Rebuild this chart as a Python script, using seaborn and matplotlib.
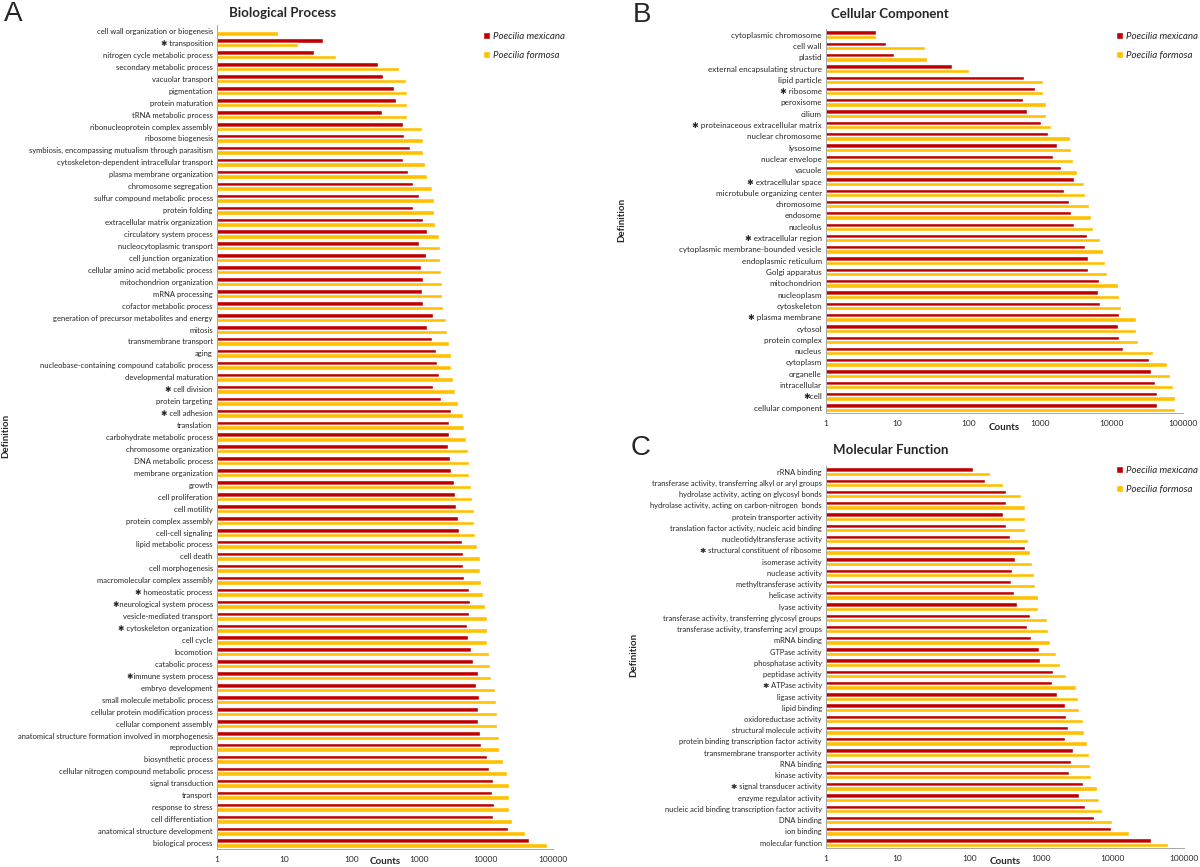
import pandas as pd
import seaborn as sns
import matplotlib.pyplot as plt
from matplotlib.ticker import NullLocator

species = ["Poecilia mexicana", "Poecilia formosa"]
colors = ["#C00000", "#FFC000"]
tick_values = [1, 10, 100, 1000, 10000, 100000]
tick_labels = ["1", "10", "100", "1000", "10000", "100000"]

# A - Biological Process
bp_terms = [
    "cell wall organization or biogenesis", "\u2731 transposition", "nitrogen cycle metabolic process",
    "secondary metabolic process", "vacuolar transport", "pigmentation", "protein maturation",
    "tRNA metabolic process", "ribonucleoprotein complex assembly", "ribosome biogenesis",
    "symbiosis, encompassing mutualism through parasitism", "cytoskeleton-dependent intracellular transport",
    "plasma membrane organization", "chromosome segregation", "sulfur compound metabolic process",
    "protein folding", "extracellular matrix organization", "circulatory system process",
    "nucleocytoplasmic transport", "cell junction organization", "cellular amino acid metabolic process",
    "mitochondrion organization", "mRNA processing", "cofactor metabolic process",
    "generation of precursor metabolites and energy", "mitosis", "transmembrane transport", "aging",
    "nucleobase-containing compound catabolic process", "developmental maturation", "\u2731 cell division",
    "protein targeting", "\u2731 cell adhesion", "translation", "carbohydrate metabolic process",
    "chromosome organization", "DNA metabolic process", "membrane organization", "growth",
    "cell proliferation", "cell motility", "protein complex assembly", "cell-cell signaling",
    "lipid metabolic process", "cell death", "cell morphogenesis", "macromolecular complex assembly",
    "\u2731 homeostatic process", "\u2731neurological system process", "vesicle-mediated transport",
    "\u2731 cytoskeleton organization", "cell cycle", "locomotion", "catabolic process",
    "\u2731immune system process", "embryo development", "small molecule metabolic process",
    "cellular protein modification process", "cellular component assembly",
    "anatomical structure formation involved in morphogenesis", "reproduction", "biosynthetic process",
    "cellular nitrogen compound metabolic process", "signal transduction", "transport",
    "response to stress", "cell differentiation", "anatomical structure development", "biological process",
]
bp_mexicana = [
    0, 38, 28, 248, 294, 430, 457, 287, 590, 605, 736, 576, 684, 822, 1012, 832, 1145, 1325, 1012,
    1294, 1104, 1145, 1130, 1158, 1633, 1342, 1592, 1800, 1890, 2036, 1633, 2188, 3048, 2798, 2798,
    2730, 2973, 3013, 3320, 3443, 3620, 3800, 3945, 4400, 4510, 4570, 4740, 5620, 5830, 5620, 5290,
    5490, 6050, 6440, 7730, 7180, 8020, 7550, 7730, 8320, 8630, 10370, 11040, 12780, 12470, 13100,
    12620, 21630, 44560,
]
bp_formosa = [
    8, 16, 59, 510, 659, 667, 676, 676, 1130, 1145, 1145, 1231, 1342, 1592, 1671, 1714, 1734, 1986,
    2110, 2110, 2188, 2217, 2244, 2300, 2600, 2631, 2798, 3013, 3048, 3200, 3443, 3800, 4570, 4800,
    5040, 5355, 5690, 5690, 5980, 6210, 6600, 6760, 6920, 7450, 8120, 8320, 8630, 9060, 9640, 10500,
    10500, 10500, 11040, 11460, 12020, 13580, 14090, 14620, 14620, 15530, 15530, 18220, 20360, 21900,
    22440, 22440, 24150, 38460, 80200,
]

# B - Cellular Component
cc_terms = [
    "cytoplasmic chromosome", "cell wall", "plastid", "external encapsulating structure", "lipid particle",
    "\u2731 ribosome", "peroxisome", "cilium", "\u2731 proteinaceous extracellular matrix",
    "nuclear chromosome", "lysosome", "nuclear envelope", "vacuole", "\u2731 extracellular space",
    "microtubule organizing center", "chromosome", "endosome", "nucleolus", "\u2731 extracellular region",
    "cytoplasmic membrane-bounded vesicle", "endoplasmic reticulum", "Golgi apparatus", "mitochondrion",
    "nucleoplasm", "cytoskeleton", "\u2731 plasma membrane", "cytosol", "protein complex", "nucleus",
    "cytoplasm", "organelle", "intracellular", "\u2731cell", "cellular component",
]
cc_mexicana = [
    5, 7, 9, 58, 590, 843, 575, 659, 1040, 1300, 1706, 1489, 1976, 2932, 2128, 2528, 2690, 3006, 4573,
    4246, 4745, 4745, 6700, 6540, 6950, 12740, 12130, 12590, 14420, 33340, 35460, 40120, 42680, 43740,
]
cc_formosa = [
    5, 24, 26, 101, 1080, 1107, 1206, 1221, 1433, 2656, 2723, 2862, 3279, 4095, 4198, 4864, 5108, 5570,
    6790, 7590, 8170, 8590, 12270, 12590, 13370, 21660, 21660, 23330, 37720, 59570, 64890, 71600,
    76230, 77100,
]

# C - Molecular Function
mf_terms = [
    "rRNA binding", "transferase activity, transferring alkyl or aryl groups",
    "hydrolase activity, acting on glycosyl bonds", "hydrolase activity, acting on carbon-nitrogen  bonds",
    "protein transporter activity", "translation factor activity, nucleic acid binding",
    "nucleotidyltransferase activity", "\u2731 structural constituent of ribosome", "isomerase activity",
    "nuclease activity", "methyltransferase activity", "helicase activity", "lyase activity",
    "transferase activity, transferring glycosyl groups", "transferase activity, transferring acyl groups",
    "mRNA binding", "GTPase activity", "phosphatase activity", "peptidase activity",
    "\u2731 ATPase activity", "ligase activity", "lipid binding", "oxidoreductase activity",
    "structural molecule activity", "protein binding transcription factor activity",
    "transmembrane transporter activity", "RNA binding", "kinase activity",
    "\u2731 signal transducer activity", "enzyme regulator activity",
    "nucleic acid binding transcription factor activity", "DNA binding", "ion binding",
    "molecular function",
]
mf_mexicana = [
    112, 164, 330, 330, 299, 330, 373, 604, 438, 402, 388, 427, 472, 718, 634, 726, 953, 975, 1465,
    1430, 1679, 2148, 2256, 2398, 2148, 2849, 2644, 2486, 3828, 3427, 4118, 5535, 9520, 34250,
]
mf_formosa = [
    197, 296, 527, 604, 611, 611, 666, 718, 763, 791, 832, 906, 918, 1203, 1279, 1343, 1656, 1849,
    2280, 3102, 3303, 3383, 3922, 4071, 4438, 4659, 4893, 5011, 6185, 6417, 7260, 9880, 16790, 59610,
]

sns.set_theme(style="white")
plt.rcParams['font.family'] = ['Lato', 'DejaVu Sans']

W, H = 1200, 867
fig = plt.figure(figsize=(12, 8.67), dpi=100)


def fpos(x, y):
    return x / W, 1 - y / H


def draw_panel(left, right, top, bottom, terms, mex, form, label_size,
               counts_y, defin_xy, legend_xy, title, title_xy, letter, letter_xy):
    ax = fig.add_axes([left / W, 1 - bottom / H, (right - left) / W, (bottom - top) / H])
    df = pd.DataFrame({
        "term": terms + terms,
        "species": [species[0]] * len(terms) + [species[1]] * len(terms),
        "count": mex + form,
    })
    sns.barplot(data=df, y="term", x="count", hue="species", orient="h", palette=colors,
                saturation=1, width=0.76, errorbar=None, ax=ax)
    ax.set_xscale("log")
    ax.set_xlim(1, 100000)
    ax.set_xticks(tick_values)
    ax.set_xticklabels(tick_labels, fontsize=6)
    ax.xaxis.set_minor_locator(NullLocator())
    ax.tick_params(axis="x", length=3, width=0.6, color="#A6A6A6", pad=2)
    ax.tick_params(axis="y", length=0, pad=3, labelsize=label_size)
    for s in ["top", "right"]:
        ax.spines[s].set_visible(False)
    for s in ["left", "bottom"]:
        ax.spines[s].set_color("#A6A6A6")
        ax.spines[s].set_linewidth(0.7)

    ax.set_xlabel("Counts", fontsize=7, fontweight="bold")
    ax.xaxis.label.set_va("center")
    ax.xaxis.set_label_coords(*fpos((left + right) / 2, counts_y), transform=fig.transFigure)
    ax.set_ylabel("Definition", fontsize=7, fontweight="bold")
    ax.yaxis.label.set_va("center")
    ax.yaxis.set_label_coords(*fpos(*defin_xy), transform=fig.transFigure)

    sns.move_legend(ax, "upper left", bbox_to_anchor=fpos(*legend_xy), bbox_transform=fig.transFigure,
                    title=None, frameon=False, fontsize=7, handlelength=0.7, handleheight=0.7,
                    handletextpad=0.35, labelspacing=1.0, borderpad=0, borderaxespad=0)
    for t in ax.get_legend().get_texts():
        t.set_fontstyle("italic")

    fig.text(*fpos(*title_xy), title, ha="center", va="center", fontsize=9.5, fontweight="bold")
    fig.text(*fpos(*letter_xy), letter, ha="center", va="center", fontsize=20,
             family=["Liberation Sans", "DejaVu Sans"])
    return ax


draw_panel(217, 553, 25, 849, bp_terms, bp_mexicana, bp_formosa, 5.5,
           862, (6, 436), (483, 32), "Biological Process", (283, 13), "A", (13, 14))
draw_panel(826, 1183, 29, 413.3, cc_terms, cc_mexicana, cc_formosa, 5.8,
           428, (622, 220), (1116, 32), "Cellular Component", (890, 14), "B", (642, 15))
draw_panel(826, 1184, 466, 848.3, mf_terms, mf_mexicana, mf_formosa, 5.4,
           862, (634, 655), (1116, 466), "Molecular Function", (891, 450), "C", (641, 448))

fig.savefig("out.png", dpi=100)
